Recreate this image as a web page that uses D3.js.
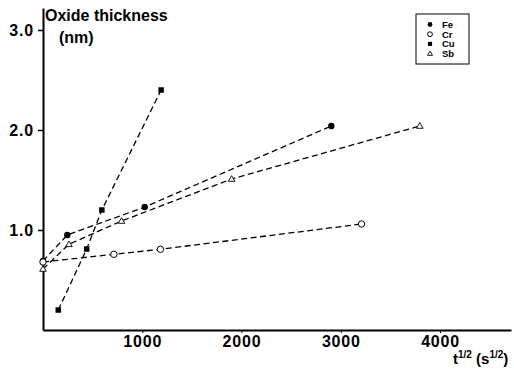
<!DOCTYPE html>
<html><head><meta charset="utf-8">
<script src="https://cdn.jsdelivr.net/npm/d3@7"></script>
<style>
body{margin:0;background:#fff;}
svg{display:block;font-family:"Liberation Sans",Arial,sans-serif;font-weight:bold;}
</style></head>
<body>
<script>
// Data (x = t^1/2 in s^1/2, y = oxide thickness in nm)
const feX = [0, 245, 1025, 2905];
const feY = [0.69, 0.95, 1.23, 2.04];
const crX = [0, 714, 1183, 3209];
const crY = [0.68, 0.757, 0.807, 1.06];
const cuX = [154, 440, 593, 1190];
const cuY = [0.2, 0.81, 1.2, 2.4];
const sbX = [0, 261, 791, 1900, 3796];
const sbY = [0.61, 0.857, 1.09, 1.51, 2.04];
const xTicks = [1000, 2000, 3000, 4000];
const yTicks = [1.0, 2.0, 3.0];
const legendNames = ["Fe", "Cr", "Cu", "Sb"];

const W = 514, H = 370;
const svg = d3.select("body").append("svg").attr("width", W).attr("height", H);

const x = d3.scaleLinear().domain([0, 4715]).range([43, 511]);
const y = d3.scaleLinear().domain([0, 3.22]).range([330, 8]);

// Axes
const xAxis = d3.axisBottom(x).tickValues(xTicks).tickSize(3).tickSizeOuter(0).tickFormat(d3.format("d"));
const gx = svg.append("g").attr("transform", "translate(0,330)").call(xAxis);
gx.select(".domain").attr("stroke-width", 2);
gx.selectAll("text").attr("font-size", 16).attr("font-weight", "bold").attr("fill", "#000")
  .attr("font-family", "'Liberation Sans',Arial,sans-serif").attr("letter-spacing", 0.8)
  .attr("y", 6).attr("dy", "0.71em");

const yAxis = d3.axisLeft(y).tickValues(yTicks).tickSize(5).tickSizeOuter(0).tickFormat(d3.format(".1f"));
const gy = svg.append("g").attr("transform", "translate(43,0)").call(yAxis);
gy.select(".domain").attr("stroke-width", 2);
gy.selectAll("line").attr("stroke-width", 1.5);
gy.selectAll("text").attr("font-size", 16).attr("font-weight", "bold").attr("fill", "#000")
  .attr("font-family", "'Liberation Sans',Arial,sans-serif").attr("letter-spacing", 0.8).attr("x", -9);

// Axis titles
svg.append("text").attr("x", 45).attr("y", 21).attr("font-size", 16).text("Oxide thickness");
svg.append("text").attr("x", 59).attr("y", 43).attr("font-size", 16).text("(nm)");
const xl = svg.append("text").attr("x", 453).attr("y", 364).attr("font-size", 15);
xl.append("tspan").text("t");
xl.append("tspan").attr("font-size", 10).attr("dy", -6).text("1/2");
xl.append("tspan").attr("dy", 6).text(" (s");
xl.append("tspan").attr("font-size", 10).attr("dy", -6).text("1/2");
xl.append("tspan").attr("dy", 6).text(")");

// Lines
const series = [
  {name:"Fe", xs:feX, ys:feY, sym:"fcircle"},
  {name:"Cr", xs:crX, ys:crY, sym:"ocircle"},
  {name:"Cu", xs:cuX, ys:cuY, sym:"square"},
  {name:"Sb", xs:sbX, ys:sbY, sym:"triangle"}
];
const line = d3.line().x(d => x(d[0])).y(d => y(d[1]));
series.forEach(s => {
  const pts = s.xs.map((v, i) => [v, s.ys[i]]);
  svg.append("path").datum(pts).attr("d", line).attr("fill", "none")
    .attr("stroke", "#000").attr("stroke-width", 1.3).attr("stroke-dasharray", "6,3.5");
});

function drawSym(g, sym, cx, cy, scale) {
  scale = scale || 1;
  if (sym === "fcircle") {
    g.append("circle").attr("cx", cx).attr("cy", cy).attr("r", 3.2 * scale).attr("fill", "#000");
  } else if (sym === "ocircle") {
    g.append("circle").attr("cx", cx).attr("cy", cy).attr("r", 3.2 * scale).attr("fill", "#fff").attr("stroke", "#000").attr("stroke-width", 1);
  } else if (sym === "square") {
    const s = 5.5 * scale;
    g.append("rect").attr("x", cx - s / 2).attr("y", cy - s / 2).attr("width", s).attr("height", s).attr("fill", "#000");
  } else {
    const r = 3.3 * scale;
    g.append("path").attr("d", `M${cx},${cy - r}L${cx + r},${cy + r * 0.7}L${cx - r},${cy + r * 0.7}Z`)
      .attr("fill", "#fff").attr("stroke", "#000").attr("stroke-width", 0.9);
  }
}
series.forEach(s => {
  const g = svg.append("g");
  s.xs.forEach((v, i) => drawSym(g, s.sym, x(v), y(s.ys[i])));
});

// Legend
const lg = svg.append("g");
lg.append("rect").attr("x", 416).attr("y", 14).attr("width", 53).attr("height", 50)
  .attr("fill", "#fff").attr("stroke", "#000").attr("stroke-width", 1);
legendNames.forEach((n, i) => {
  const s = series.find(q => q.name === n);
  const cy = 24.5 + i * 9.7;
  drawSym(lg, s.sym, 430, cy, 0.75);
  lg.append("text").attr("x", 442).attr("y", cy + 3.5).attr("font-size", 9.5).text(n);
});
</script>
</body></html>
